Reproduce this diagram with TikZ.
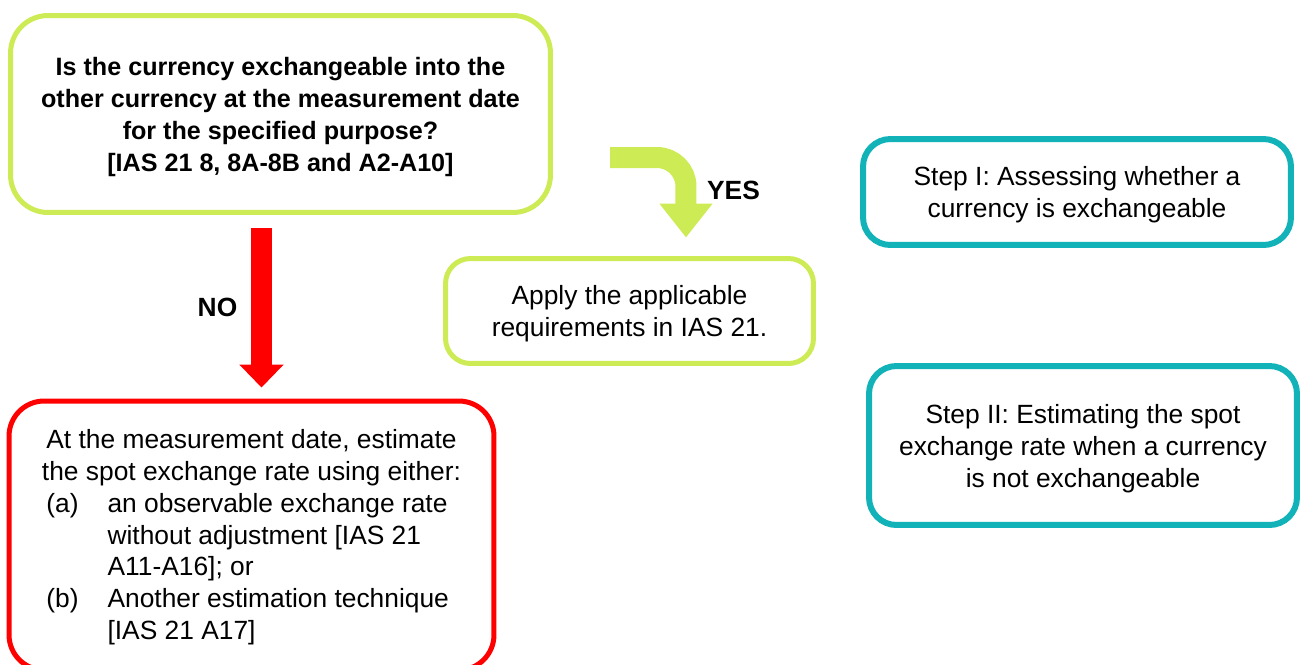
\documentclass[tikz,border=0pt]{standalone}
\usepackage{fontspec}
\setmainfont{Liberation Sans}
\usepackage{xcolor}
\usepackage{tikz}
\usetikzlibrary{positioning,arrows.meta}

\definecolor{limegreen}{HTML}{CDEB55}
\definecolor{stepteal}{HTML}{11B2B8}
\definecolor{norange}{HTML}{FF0000}

\tikzset{
  box/.style={draw,rounded corners=0.55cm,line width=0.1cm,align=center,inner sep=0pt,
    text depth=-4.5pt,font=\fontsize{15}{18.2}\selectfont},
  stepbox/.style={box,draw=stepteal,line width=0.12cm,minimum width=8.56cm},
  lbl/.style={font=\bfseries\fontsize{15}{18}\selectfont},
  noarrow/.style={norange,line width=0.42cm,-{Triangle[width=0.86cm,length=0.46cm]}},
  yesarrow/.style={limegreen,line width=0.42cm,rounded corners=0.58cm,-{Triangle[width=1.02cm,length=0.68cm]}}
}

\begin{document}
\begin{tikzpicture}[x=0.02cm,y=-0.02cm]
    \useasboundingbox (0,0) rectangle (1303,664);
    % question and its two answers
    \node[box,draw=limegreen,rounded corners=0.75cm,minimum width=10.8cm,minimum height=3.94cm,
      font=\bfseries\fontsize{14.3}{18.2}\selectfont](question) at (280.5,114)
      {Is the currency exchangeable into the\\other currency at the measurement date\\
       for the specified purpose?\\{[}IAS 21 8, 8A-8B and A2-A10{]}};
    \node[box,draw=limegreen,rounded corners=0.5cm,minimum width=7.36cm,minimum height=2.1cm](apply) at (629.5,311)
      {Apply the applicable\\requirements in IAS 21.};
    \node[box,text depth=57.7pt,draw=norange,rounded corners=0.7cm,minimum width=9.7cm,minimum height=5.38cm](estimate) at (251.5,535.5)
      {\begin{tabular}{@{}l@{\hspace{0.58cm}}l@{}}
        \multicolumn{2}{@{}c@{}}{At the measurement date, estimate}\\
        \multicolumn{2}{@{}c@{}}{the spot exchange rate using either:}\\
        \,(a)&an observable exchange rate\\
        &without adjustment {[}IAS 21\\
        &A11-A16]; or\\
        \,(b)&Another estimation technique\\
        &{[}IAS 21 A17]
      \end{tabular}};
    % steps
    \node[stepbox,minimum height=2.12cm](stepone) at (1077,192)
      {Step I: Assessing whether a\\currency is exchangeable};
    \node[stepbox,minimum height=3.18cm](steptwo) at (1083,445.5)
      {Step II: Estimating the spot\\exchange rate when a currency\\is not exchangeable};
    % arrows
    \draw[noarrow,shorten <=0.27cm,shorten >=0.22cm]([xshift=-0.38cm]question.south)--([xshift=-0.38cm]question.south |- estimate.north);
    \node[lbl](no) at (217.5,307.5){NO};
    \coordinate (yesfrom) at (610,157.5);
    \draw[yesarrow,shorten >=0.37cm](yesfrom)-|([xshift=1.13cm]apply.north);
    \node[lbl](yes) at (733.5,190.5){YES};
\end{tikzpicture}
\end{document}
